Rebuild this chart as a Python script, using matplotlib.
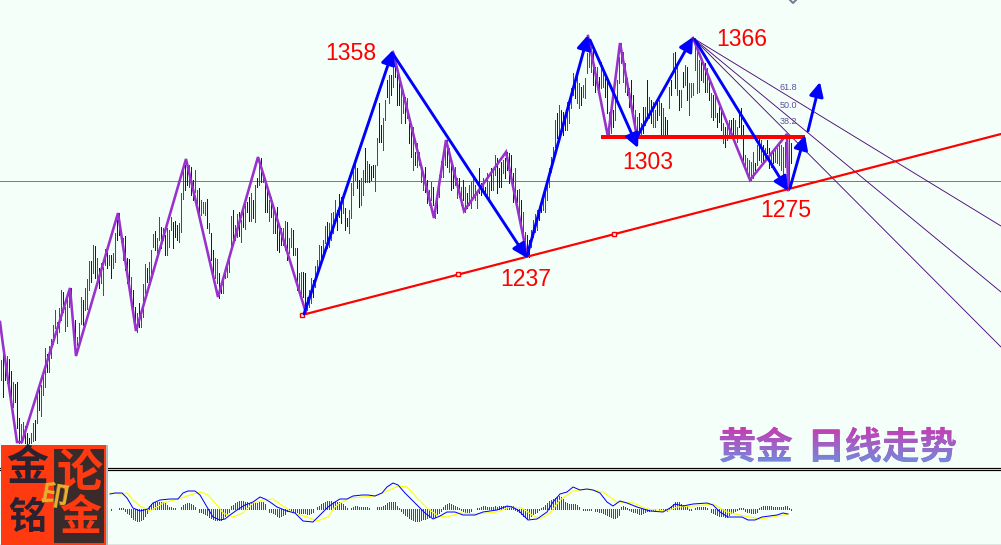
import matplotlib
matplotlib.use("Agg")
import matplotlib.pyplot as plt
import numpy as np
from matplotlib.font_manager import FontProperties
from matplotlib.patches import PathPatch, Rectangle
from matplotlib.textpath import TextPath
from matplotlib.transforms import Affine2D

bar_high = [
    360, 348, 365, 356, 359, 371, 382, 384, 382, 418,
    424, 422, 426, 433, 438, 433, 423, 420, 392, 386,
    385, 370, 348, 354, 346, 339, 325, 310, 322, 308,
    290, 292, 307, 297, 290, 288, 318, 320, 337, 323,
    297, 300, 288, 279, 261, 261, 245, 246, 258, 268,
    263, 267, 249, 247, 255, 255, 253, 233, 220, 213,
    233, 238, 236, 258, 259, 277, 290, 307, 313, 303,
    310, 284, 264, 268, 262, 250, 234, 231, 238, 217,
    227, 228, 235, 228, 230, 217, 222, 221, 225, 223,
    193, 170, 165, 163, 165, 167, 180, 170, 190, 188,
    200, 202, 202, 199, 223, 233, 250, 258, 259, 273,
    282, 277, 267, 263, 255, 216, 210, 225, 214, 212,
    220, 205, 202, 202, 197, 193, 200, 185, 178, 159,
    158, 173, 180, 190, 200, 197, 207, 213, 207, 230,
    228, 228, 221, 222, 238, 228, 230, 248, 248, 273,
    272, 272, 273, 297, 290, 278, 280, 266, 260, 245,
    246, 240, 226, 222, 223, 213, 212, 200, 210, 194,
    197, 200, 208, 218, 210, 183, 171, 163, 168, 180,
    178, 170, 148, 161, 164, 166, 165, 165, 138, 103,
    125, 118, 100, 80, 75, 75, 63, 60, 70, 80,
    90, 90, 97, 98, 123, 123, 127, 152, 143, 152,
    168, 172, 167, 180, 190, 182, 187, 203, 192, 175,
    161, 155, 143, 140, 148, 163, 173, 167, 178, 178,
    187, 180, 187, 193, 185, 182, 177, 185, 193, 168,
    183, 178, 187, 173, 182, 168, 170, 155, 158, 168,
    162, 160, 158, 152, 153, 155, 173, 168, 190, 189,
    200, 212, 232, 235, 240, 230, 220, 214, 210, 210,
    205, 200, 192, 178, 168, 157, 147, 120, 113, 105,
    110, 112, 115, 102, 107, 88, 73, 77, 73, 83,
    87, 85, 78, 53, 42, 47, 50, 67, 67, 77,
    62, 68, 78, 82, 112, 110, 110, 100, 80, 57,
    43, 52, 63, 78, 88, 80, 95, 110, 117, 113,
    123, 107, 107, 80, 97, 100, 102, 110, 100, 100,
    103, 108, 117, 120, 87, 80, 53, 52, 63, 90,
    90, 72, 65, 67, 83, 83, 83, 38, 47, 60,
    62, 62, 63, 68, 82, 93, 95, 93, 113, 107,
    108, 123, 127, 125, 120, 120, 118, 120, 127, 110,
    108, 125, 155, 158, 160, 162, 152, 163, 145, 138,
    140, 145, 148, 140, 148, 153, 150, 147, 148, 145,
    145, 147, 142, 143, 135, 143,
]
bar_low = [
    380, 397, 380, 383, 387, 403, 407, 402, 428, 443,
    443, 438, 443, 443, 443, 443, 441, 440, 423, 410,
    416, 395, 387, 372, 372, 358, 344, 328, 343, 332,
    320, 312, 331, 326, 307, 312, 335, 350, 345, 343,
    324, 325, 310, 309, 290, 282, 273, 278, 283, 288,
    283, 295, 265, 268, 265, 278, 268, 262, 240, 235,
    242, 260, 270, 283, 285, 298, 312, 330, 332, 327,
    327, 317, 293, 282, 282, 273, 247, 250, 253, 240,
    248, 240, 255, 255, 247, 230, 248, 237, 240, 242,
    232, 199, 190, 185, 187, 195, 200, 192, 209, 217,
    215, 213, 215, 228, 233, 260, 278, 278, 283, 298,
    293, 293, 278, 277, 272, 252, 243, 240, 237, 236,
    242, 227, 229, 212, 221, 221, 218, 222, 187, 185,
    182, 182, 212, 212, 221, 217, 233, 233, 250, 252,
    245, 245, 250, 260, 253, 247, 255, 255, 290, 290,
    295, 297, 310, 310, 307, 303, 297, 287, 275, 267,
    262, 257, 243, 248, 247, 240, 233, 223, 230, 217,
    223, 213, 230, 226, 233, 218, 195, 180, 188, 207,
    205, 195, 182, 182, 182, 180, 177, 191, 165, 142,
    142, 150, 120, 97, 103, 95, 87, 77, 105, 105,
    123, 113, 123, 118, 143, 157, 170, 165, 167, 165,
    182, 190, 192, 203, 205, 200, 205, 218, 213, 197,
    177, 177, 165, 167, 172, 190, 188, 185, 198, 197,
    205, 200, 212, 208, 205, 208, 197, 200, 208, 193,
    195, 190, 195, 197, 202, 190, 190, 175, 193, 187,
    187, 173, 178, 170, 183, 175, 202, 192, 202, 217,
    227, 233, 247, 255, 257, 247, 237, 232, 230, 220,
    212, 210, 212, 200, 187, 172, 162, 147, 138, 138,
    130, 135, 130, 130, 123, 108, 95, 98, 103, 108,
    105, 97, 98, 73, 67, 72, 85, 92, 82, 93,
    88, 87, 97, 113, 137, 133, 127, 120, 103, 83,
    63, 82, 92, 95, 107, 102, 120, 135, 135, 130,
    137, 133, 125, 120, 118, 123, 127, 127, 120, 115,
    137, 135, 136, 137, 108, 95, 73, 88, 95, 110,
    107, 87, 85, 100, 115, 97, 95, 70, 93, 92,
    80, 82, 92, 92, 100, 117, 120, 117, 127, 122,
    130, 143, 147, 140, 137, 138, 135, 137, 142, 127,
    135, 165, 170, 173, 177, 180, 178, 170, 165, 160,
    162, 163, 160, 153, 168, 167, 163, 162, 163, 165,
    170, 177, 167, 163, 190, 163,
]
bar_kind = (
    "rbbrbbrbbb" "rrbbbrrbrb" "rrrbrrrrrr" "rbrrrbbbrr" "rbrrrbrbrb"
    "rrrbrbrrbb" "rrbbbrbbrb" "rrrbrrrbrr" "brbrrrbbbr" "rrbbrbbrrb"
    "rrrbrbbrrb" "brrrrrbrrb" "rbrbbrbrbr" "brbbrbrbbb" "brrbrrbrbr"
    "rbbrrrbrrr" "brrbrrrrbb" "brbbrrrrbb" "rrbrbbbrrb" "brrbrbrbbb"
    "rrbrbbrbrr" "rrbbrrbrbr" "rrrbrbbrrb" "rbrbrrrrrb" "brbrrbrrbb"
    "brbbbbbrbr" "brrbbrrrrb" "brrrrrrrbr" "bbbrrrrbrr" "brrrrrbbrb"
    "rrbbrrbrrr" "rrrbbbbrrb" "rbrbrbrrbr" "brbbrbrbrb" "rbrbrrrrrr"
    "brbrbrbrbb" "brbrrbbrrb" "bbrrrrrbrb" "rbrbbrbrrr" "rrrrrb"
)

purple_x = [0, 3, 17, 22, 70, 76, 118, 136, 186, 218, 258, 306]
purple_y = [322, 345, 442, 442, 288, 356, 213, 331, 159, 297, 157, 313]
purple2_x = [393, 434, 446, 464, 506, 527]
purple2_y = [52, 218, 140, 211, 152, 255]
purple3_x = [588, 608, 620, 637]
purple3_y = [36, 137, 43, 137]
purple4_x = [693, 750, 787, 788]
purple4_y = [38, 180, 134, 190]

wave_from_x = [304, 393, 527, 590, 637, 695, 790, 808]
wave_from_y = [314, 54, 256, 40, 137, 40, 188, 131]
wave_to_x = [393, 527, 588, 638, 693, 788, 805, 820]
wave_to_y = [50, 258, 35, 148, 37, 191, 135, 82]

fan_end_y = [226, 292, 347]
fan_names = ["61.8", "50.0", "38.2"]
fan_name_y = [87, 105, 122]

price_names = ["1358", "1366", "1303", "1275", "1237"]
price_x = [351, 742, 648, 786, 526]
price_y = [51, 37, 160, 208, 277]

macd_hist = [
    -1, 0, 0, 0, 1, 1, 1,
    -2, -4, -5, -8, -10, -11, -12, -12, -11, -10, -7, -4,
    3, 5, 6, 7, 7, 7, 7, 7, 6, 4, 2, 2, 1, 1, 0, 0,
    2, 4, 5, 6, 6, 5, 4, 2, 0,
    -3, -3, -4, -5, -6, -8, -9, -10, -11, -11, -11, -11, -9, -7, -5, -3,
    3, 4, 6, 7, 8, 8, 8, 7, 7, 6, 6, 6, 6, 6, 7, 7, 7, 5, 0,
    -3, -3, -4, -5, -7, -8, -7, -6, -5, -2, -2, -2, -3, -3, -3, -4, -4, -4, -4, -5, -5, -4, -3, 0,
    2, 3, 5, 6, 7, 8, 8, 8, 7, 7, 7, 7, 6, 5, 3, 1, 0,
    1, 2, 3, 3, 2, 2, 2, 2, 2, 1, 0, 0, 0,
    2, 2, 2, 3, 4, 6, 7, 7, 7, 7, 3, 1,
    -2, -4, -6, -7, -9, -10, -11, -12, -12, -12, -11, -10, -10, -9, -8, -7, -8, -8, -6, -4, -2,
    2, 4, 5, 6, 5, 4, 3, 2, 1,
    -1, -2, -3, -3, -3, -2, 0, 0,
    1, 1, 2, 3, 3, 2, 2, 2, 2, 3, 2, 3, 3, 3, 3, 3, 3, 3, 3,
    -1, -2, -3, -5, -7, -8, -9, -9, -7, -5, -4, -3, -1,
    1, 2, 4, 6, 8, 9, 10, 11, 12, 13, 12, 10, 7, 6, 5, 5, 5, 5, 4, 2, 0,
    -1, -1, -1, -1, -1, 0,
    -2, -2, -3, -3, -4, -5, -6, -7, -8, -9, -9, -8, -6,
    2, 3, 2, 1,
    -1, -2, -3, -3, -4, -5, -5, -4, -3, -2, -2, -1, -1, -1, 0,
    -1, -1, -1, -1, -2,
    1, 3, 5, 7, 7, 7, 5, 4, 3, 3,
    -1, -1, 0,
    1, 2, 2, 2, 2, 2, 1, 0,
    -3, -4, -5, -6, -7, -7, -7, -8, -8, -6, -4, -3, -2, -1,
    1, 1, 1,
    -2, -3, -3, -4, -4, -4, -3,
    1, 2, 3, 3, 3, 3, 3, 2, 2, 2, 2, 2, 2, 3, 3, 1, -1,
]

macd_blue_x = [110, 115, 122, 127, 133, 140, 148, 153, 160, 170, 178, 183, 188, 195, 200, 207, 213, 220, 225, 230,
               237, 245, 253, 260, 265, 270, 277, 287, 295, 303, 313, 320, 328, 335, 340, 347, 353, 362, 368, 375,
               382, 387, 393, 398, 405, 417, 425, 433, 440, 447, 455, 463, 475, 483, 497, 507, 512, 518, 528, 537,
               547, 553, 560, 567, 573, 580, 587, 593, 600, 607, 613, 620, 627, 637, 650, 663, 670, 675, 683, 693,
               707, 713, 720, 728, 742, 748, 755, 762, 777, 783, 788]
macd_blue_y = [494, 493, 493, 498, 508, 511, 509, 503, 500, 499, 499, 493, 491, 491, 495, 507, 517, 520, 519, 515,
               510, 505, 502, 497, 499, 502, 507, 511, 513, 521, 522, 515, 507, 502, 499, 499, 496, 495, 495, 496,
               493, 487, 483, 485, 493, 505, 513, 519, 516, 512, 512, 515, 515, 512, 510, 506, 507, 510, 520, 519,
               512, 502, 494, 492, 487, 490, 489, 490, 493, 502, 506, 501, 503, 507, 511, 512, 508, 504, 506, 504,
               503, 505, 512, 517, 517, 520, 520, 517, 515, 513, 514]
macd_yellow_x = [110, 122, 127, 133, 140, 150, 157, 163, 178, 190, 200, 208, 217, 223, 233, 243, 253, 263, 273, 283,
                 293, 307, 317, 328, 335, 340, 350, 363, 375, 387, 398, 407, 417, 427, 438, 447, 460, 477, 497, 510,
                 522, 532, 540, 550, 560, 573, 587, 603, 617, 633, 647, 667, 677, 693, 713, 727, 740, 760, 773, 788]
macd_yellow_y = [493, 494, 493, 500, 506, 511, 507, 503, 499, 495, 492, 495, 505, 513, 517, 513, 503, 500, 499, 506,
                 513, 517, 521, 517, 507, 503, 498, 497, 496, 491, 486, 487, 498, 508, 516, 517, 513, 514, 512, 507,
                 508, 515, 519, 513, 500, 491, 489, 492, 502, 503, 509, 511, 507, 506, 504, 512, 515, 519, 517, 514]

back = "#f5fffa"
plt.rcParams["font.family"] = ["Liberation Sans", "DejaVu Sans"]
cjk = ["Noto Sans CJK SC", "DejaVu Sans"]

fig = plt.figure(figsize=(10.01, 5.45), dpi=100, facecolor=back)
ax = fig.add_axes([0, 0, 1, 1])
ax.set_xlim(0, 1001)
ax.set_ylim(545, 0)
ax.axis("off")

px = 0.72  # one screen pixel in points

# price bars, one pixel wide
n = min(len(bar_high), len(bar_low), len(bar_kind))
bar_x = np.arange(n) * 2 + 0.5
for x, hi, lo, kind in zip(bar_x, bar_high, bar_low, bar_kind):
    ax.plot([x, x], [hi, lo], color="#ff0000" if kind == "r" else "#0000ff", lw=px * 0.8, zorder=2,
            solid_capstyle="butt", antialiased=False)

ax.axhline(181, color="#708090", lw=px, zorder=1.5)
ax.plot([790, 793, 796], [0, 3, 0], color="#708090", lw=px * 2, zorder=2)

# purple swing lines
for xs, ys in [(purple_x, purple_y), (purple2_x, purple2_y), (purple3_x, purple3_y), (purple4_x, purple4_y)]:
    ax.plot(xs, ys, color="#9932cc", lw=px * 2.6, zorder=3, solid_joinstyle="miter")

# fibonacci fan
for end_y, name, name_y in zip(fan_end_y, fan_names, fan_name_y):
    ax.plot([693, 1001], [38, end_y], color="#4b0a78", lw=px * 0.9, zorder=3)
    ax.text(788, name_y, name, color="#5a4fa0", fontsize=px * 9, ha="center", va="center", zorder=5)

# trend line and level
ax.plot([302, 1001], [315, 134], color="#ff0000", lw=px * 2.2, zorder=4)
ax.plot([302, 458, 614], [315, 274, 234], ls="none", marker="s", ms=px * 4, mfc=back, mec="#ff0000",
        mew=px * 1.4, zorder=5)
ax.plot([601, 805], [137, 137], color="#ff0000", lw=px * 4, zorder=4, solid_capstyle="butt")

# blue wave arrows
for x0, y0, x1, y1 in zip(wave_from_x, wave_from_y, wave_to_x, wave_to_y):
    ax.annotate("", xy=(x1, y1), xytext=(x0, y0), zorder=6,
                arrowprops=dict(arrowstyle="-|>,head_length=0.85,head_width=0.42", color="#0000ff",
                                lw=px * 2.9, shrinkA=0, shrinkB=0, mutation_scale=10))

for name, x, y in zip(price_names, price_x, price_y):
    ax.text(x, y, name, color="#ff0000", fontsize=px * 23, ha="center", va="center_baseline", zorder=7)

# headline, real text with the gradient laid over it
title_left = "黄金"
title_right = "日线走势"
for s, x in [(title_left, 718), (title_right, 807)]:
    ax.text(x, 459, s, family=cjk, fontweight="bold", fontsize=px * 37.5, color="#a060c4", zorder=7, va="baseline",
            ha="left")
    tp = TextPath((0, 0), s, size=37.5, prop=FontProperties(family="Noto Sans CJK SC", weight="bold"))
    patch = PathPatch(tp, transform=Affine2D().scale(1, -1).translate(x, 459) + ax.transData, fc="none", ec="none")
    ax.add_patch(patch)
    grad = np.linspace(0, 1, 64).reshape(-1, 1, 1)
    rgb = (1 - grad) * np.array([0.80, 0.22, 0.69]) + grad * np.array([0.43, 0.56, 0.87])
    im = ax.imshow(rgb, extent=(x - 2, x + 170, 464, 426), aspect="auto", zorder=7.5)
    im.set_clip_path(patch)
ax.set_xlim(0, 1001)
ax.set_ylim(545, 0)

# lower panel
ax.plot([0, 1001], [467.5, 467.5], color="#000000", lw=px * 1.2, zorder=2)
ax.plot([0, 1001], [469.5, 469.5], color="#000000", lw=px * 1.2, zorder=2)
ax.plot([0, 1001], [544.5, 544.5], color="#000000", lw=px * 1.2, zorder=2)

hist_x = 110 + np.arange(len(macd_hist)) * 2 + 0.5
for x, v in zip(hist_x, macd_hist):
    if v != 0:
        ax.plot([x, x], [508.5, 508.5 - v], color="#ff0000" if v > 0 else "#008000", lw=px * 0.8, zorder=3,
                solid_capstyle="butt", antialiased=False)
ax.plot(macd_yellow_x, macd_yellow_y, color="#ffff00", lw=px * 1.1, zorder=4)
ax.plot(macd_blue_x, macd_blue_y, color="#0000ff", lw=px * 1.0, zorder=5)

# stamp in the corner
ax.add_patch(Rectangle((1, 445), 107, 100, fc="#b8b8b8", ec="none", zorder=8))
ax.add_patch(Rectangle((1, 445), 105, 100, fc="#ff3a10", ec="none", zorder=8))
ax.add_patch(Rectangle((54, 449), 50, 94, fc="#3b2a2a", ec="none", zorder=8.1))
stamp_chars = ["金", "铭", "论", "金", "印"]
stamp_x = [27, 27, 80, 80, 54]
stamp_y = [468, 518, 473, 518, 498]
stamp_size = [42, 38, 46, 42, 28]
stamp_color = ["#2a2230", "#2a2230", "#ff3a10", "#ff3a10", "#e8b030"]
for ch, x, y, size, col in zip(stamp_chars, stamp_x, stamp_y, stamp_size, stamp_color):
    ax.text(x, y, ch, family=cjk, fontweight="bold", fontsize=px * size, color=col, ha="center", va="center",
            zorder=9, rotation=-10 if ch == "印" else 0)

fig.savefig("out.png", dpi=100, facecolor=back)
